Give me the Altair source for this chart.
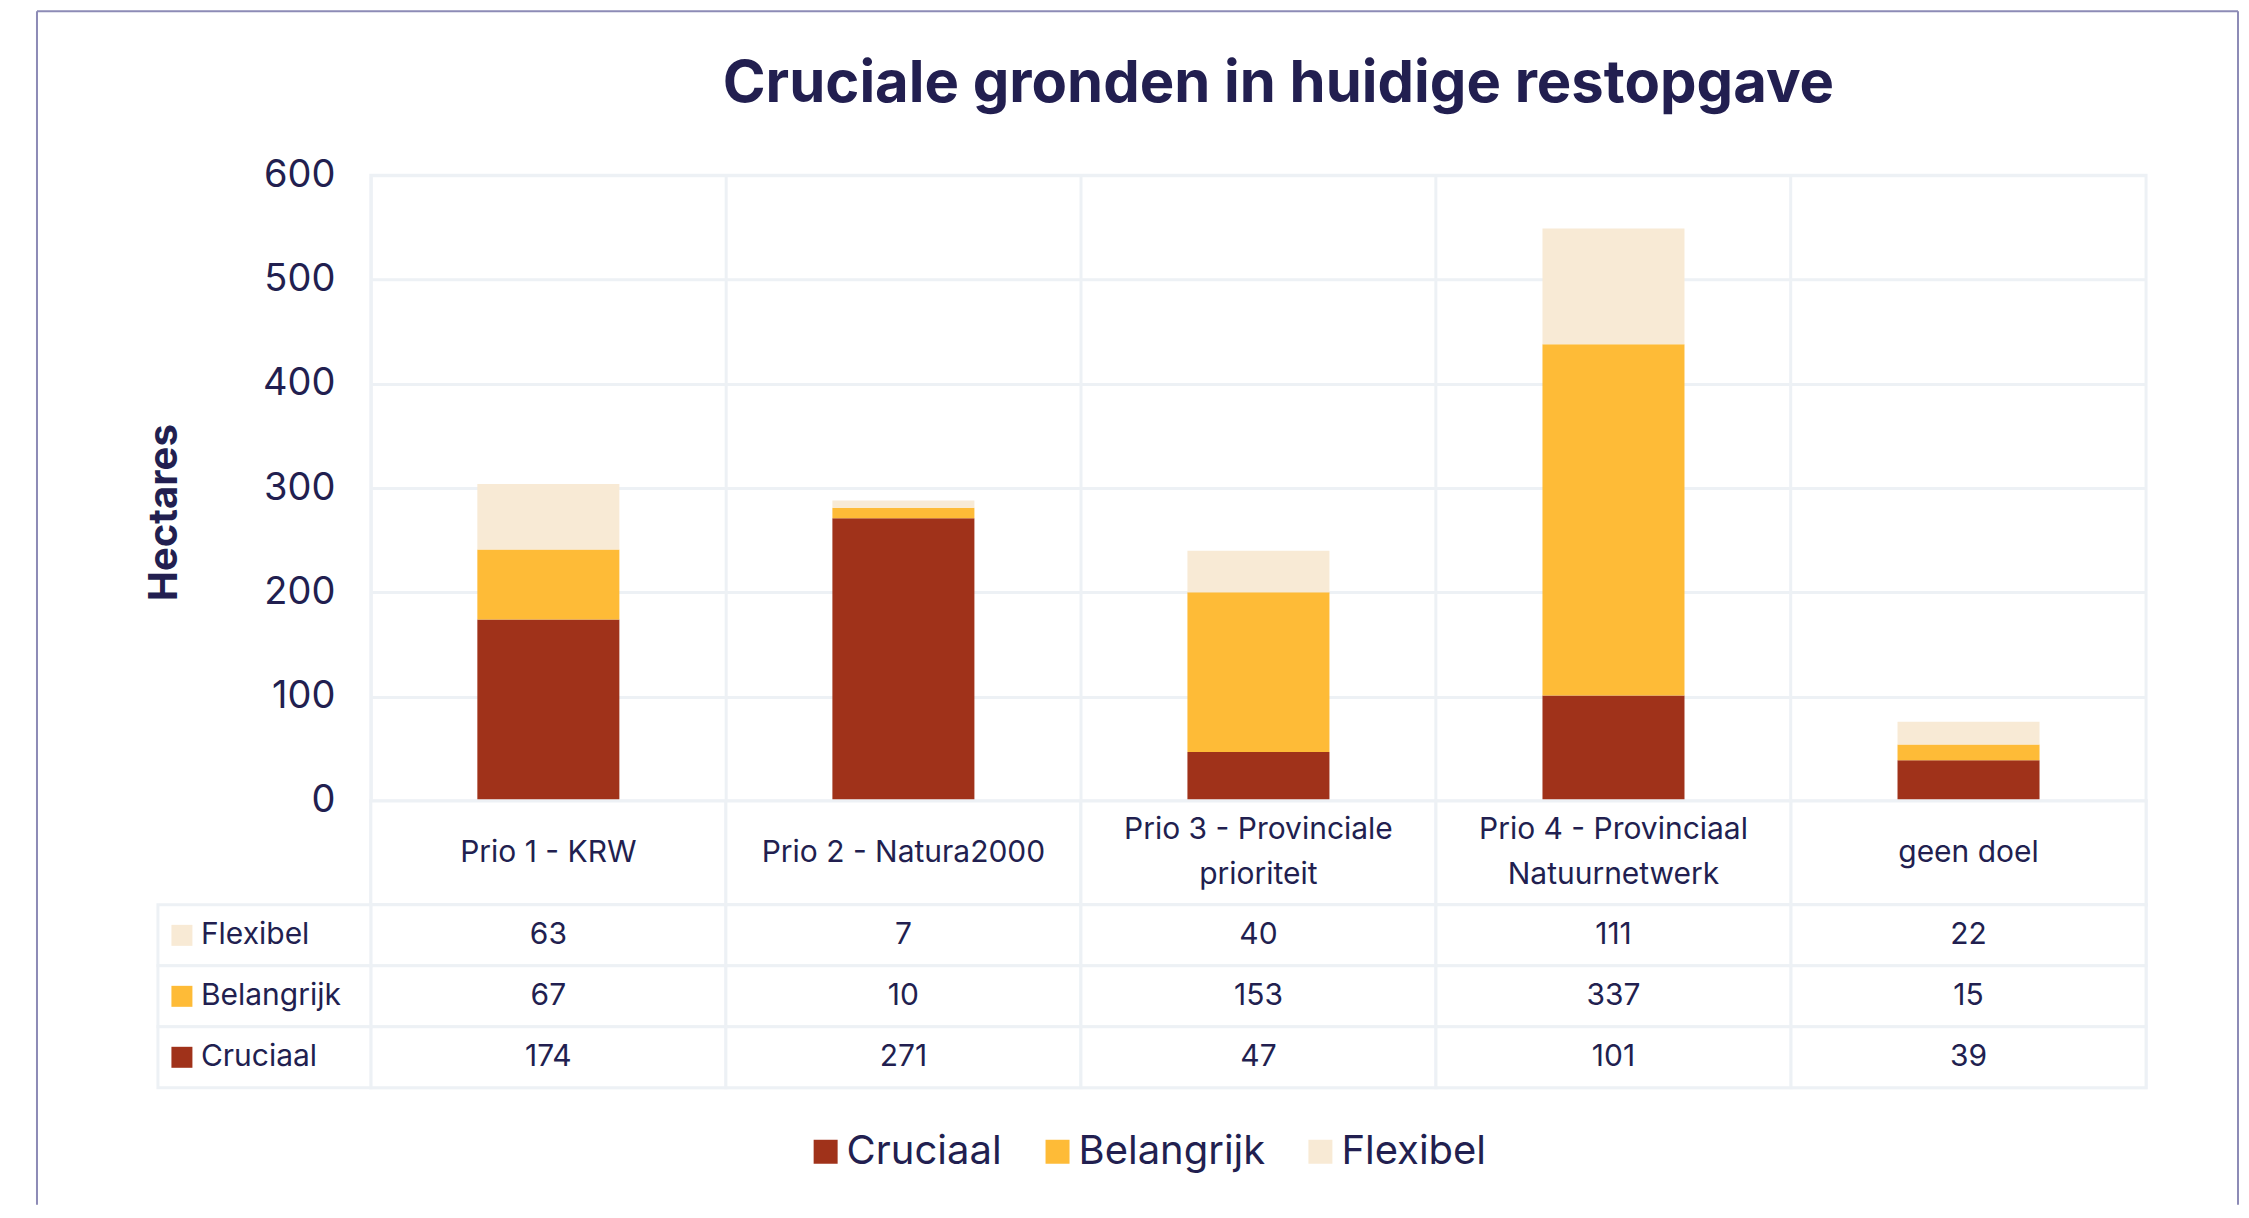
import altair as alt
import pandas as pd

# ---- data ----
title_text = "Cruciale gronden in huidige restopgave"
categories = [
    "Prio 1 - KRW",
    "Prio 2 - Natura2000",
    "Prio 3 - Provinciale prioriteit",
    "Prio 4 - Provinciaal Natuurnetwerk",
    "geen doel",
]
category_labels = [
    "Prio 1 - KRW",
    "Prio 2 - Natura2000",
    "Prio 3 - Provinciale\nprioriteit",
    "Prio 4 - Provinciaal\nNatuurnetwerk",
    "geen doel",
]
series = ["Cruciaal", "Belangrijk", "Flexibel"]
cruciaal = [174, 271, 47, 101, 39]
belangrijk = [67, 10, 153, 337, 15]
flexibel = [63, 7, 40, 111, 22]
table_rows = ["Flexibel", "Belangrijk", "Cruciaal"]
y_ticks = [0, 100, 200, 300, 400, 500, 600]

# ---- style ----
colors = ["#A0321A", "#FEBB37", "#F8EAD5"]
NAVY = "#221F50"
GRID = "#EDF1F5"
FRAME = "#8D8BB6"
FONT = "Inter"

values_by_series = {"Cruciaal": cruciaal, "Belangrijk": belangrijk, "Flexibel": flexibel}
bar_rows = []
for si, s in enumerate(series):
    for ci, c in enumerate(categories):
        bar_rows.append({"category": c, "series": s, "value": values_by_series[s][ci], "stack_order": si})
bar_df = pd.DataFrame(bar_rows)

table_df = pd.DataFrame(
    [{"category": c, "series": r, "value": values_by_series[r][ci]}
     for r in table_rows for ci, c in enumerate(categories)]
)
header_df = pd.DataFrame({"category": categories})
header_lines = []
for c, lab in zip(categories, category_labels):
    parts = lab.split("\n")
    n = len(parts)
    for i, t in enumerate(parts):
        header_lines.append({"category": c, "line_offset": i - (n - 1) / 2, "text": t})
header_text_df = pd.DataFrame(header_lines)
label_df = pd.DataFrame({"series": table_rows})
one = pd.DataFrame({"k": [0]})

color_scale = alt.Scale(domain=series, range=colors)
x_scale = alt.Scale(domain=categories, paddingInner=0, paddingOuter=0)
W, H = 1776, 626

x_plain = alt.X("category:N", sort=categories, scale=x_scale, axis=None)
y_rows = alt.Y("series:N", sort=table_rows,
               scale=alt.Scale(domain=table_rows, paddingInner=0, paddingOuter=0), axis=None)

# ---- bar chart ----
bars = alt.Chart(bar_df).mark_bar(width=alt.RelativeBandSize(0.4)).encode(
    x=alt.X("category:N", sort=categories, scale=x_scale, title=None,
            axis=alt.Axis(labels=False, ticks=False, domain=False, grid=True,
                          bandPosition=0, gridColor=GRID, gridWidth=3)),
    y=alt.Y("value:Q", stack="zero", scale=alt.Scale(domain=[0, 600], nice=False),
            axis=alt.Axis(values=y_ticks, title="Hectares", titleFontSize=40,
                          titleFontWeight="bold", titleColor=NAVY, titleFont=FONT,
                          titlePadding=78, titleY=337,
                          labelFontSize=38, labelColor=NAVY, labelFont=FONT,
                          labelPadding=36, ticks=False, tickSize=0, domain=False,
                          grid=True, gridColor=GRID, gridWidth=3)),
    color=alt.Color("series:N", scale=color_scale,
                    legend=alt.Legend(orient="none", direction="horizontal",
                                      legendX=435, legendY=957, title=None,
                                      symbolType="square", symbolSize=576,
                                      symbolStrokeWidth=0, symbolOpacity=1,
                                      labelFontSize=40, labelColor=NAVY, labelFont=FONT,
                                      labelLimit=600,
                                      labelOffset=1, columnPadding=35, padding=0)),
    order=alt.Order("stack_order:Q"),
)

frame_left = alt.Chart(one).mark_rule(color=FRAME, strokeWidth=2).encode(
    x=alt.value(-334), y=alt.value(-164), y2=alt.value(1030))
frame_top = alt.Chart(one).mark_rule(color=FRAME, strokeWidth=2).encode(
    x=alt.value(-334), x2=alt.value(1868), y=alt.value(-164))
frame_right = alt.Chart(one).mark_rule(color=FRAME, strokeWidth=2).encode(
    x=alt.value(1868), y=alt.value(-164), y2=alt.value(1030))
title_mark = alt.Chart(one).mark_text(
    text=title_text, fontSize=58, fontWeight="bold", color=NAVY, font=FONT,
    align="center", baseline="alphabetic").encode(x=alt.value(908), y=alt.value(-73))

bar_chart = alt.layer(frame_left, frame_top, frame_right, title_mark, bars).properties(
    width=W, height=H)

# ---- header row (category names) ----
header_cells = alt.Chart(header_df).mark_rect(fill="white", stroke=GRID, strokeWidth=3).encode(x=x_plain)
header_text = alt.Chart(header_text_df).mark_text(
    fontSize=30, color=NAVY, font=FONT, baseline="middle").encode(
    x=x_plain,
    y=alt.Y("line_offset:Q", scale=alt.Scale(domain=[-1.15, 1.15], reverse=True, nice=False, zero=False),
            axis=None),
    text="text:N")
header_chart = alt.layer(header_cells, header_text).properties(width=W, height=104)

# ---- data table ----
table_base = alt.Chart(table_df).encode(x=x_plain, y=y_rows)
table_cells = table_base.mark_rect(fill="white", stroke=GRID, strokeWidth=3)
table_text = table_base.mark_text(fontSize=30, color=NAVY, font=FONT,
                                  baseline="middle").encode(text="value:Q")

label_base = alt.Chart(label_df).encode(y=y_rows)
label_cells = label_base.mark_rect(fill="white", stroke=GRID, strokeWidth=3).encode(
    x=alt.value(-213), x2=alt.value(0))
label_swatch = label_base.mark_square(size=441, opacity=1, strokeWidth=0).encode(
    x=alt.value(-189), color=alt.Color("series:N", scale=color_scale, legend=None))
label_text = label_base.mark_text(align="left", baseline="middle", fontSize=30,
                                  color=NAVY, font=FONT).encode(
    x=alt.value(-170), text="series:N")

table_chart = alt.layer(table_cells, table_text, label_cells, label_swatch, label_text).properties(
    width=W, height=183)

chart = alt.vconcat(bar_chart, header_chart, table_chart, spacing=0, bounds="flush").properties(
    padding={"left": 26, "top": 0, "right": 0, "bottom": 0},
    background="white",
).configure_view(stroke=GRID, strokeWidth=3)

chart.save("out.html", embed_options={"renderer": "svg", "actions": False})
